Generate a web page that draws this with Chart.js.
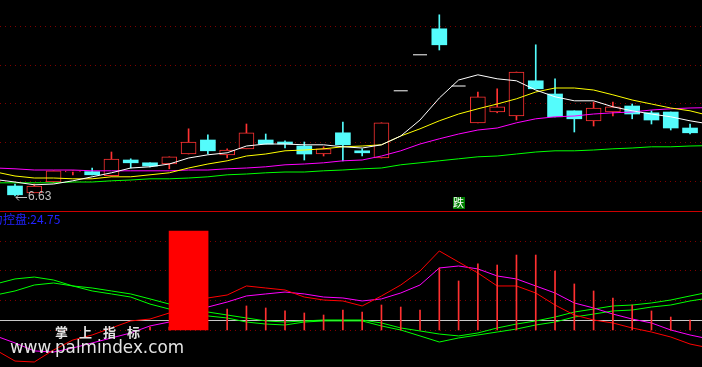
<!DOCTYPE html>
<html>
<head>
<meta charset="utf-8">
<title>K线 + 控盘</title>
<script src="https://cdn.jsdelivr.net/npm/chart.js@4.4.1/dist/chart.umd.min.js"></script>
<style>
  html, body { margin: 0; padding: 0; background: #000; overflow: hidden; }
  canvas { display: block; }
</style>
</head>
<body>
<canvas id="klineChart" width="702" height="211"></canvas>
<canvas id="ctrlChart" width="702" height="156"></canvas>
<script>
// ---- K线 (36 days) ----
const opens  = [6.88, 6.71, 6.98, 7.23, 7.24, 7.14, 7.53, 7.46, 7.43, 7.68, 8.03, 7.66, 7.81, 8.03, 7.98, 7.88, 7.68, 8.21,
                7.76, 7.58, 9.26, 10.16, 10.81, 9.38, 8.46, 8.73, 8.63, 9.51, 9.18, 8.76, 8.51, 8.73, 8.88, 8.71, 8.73, 8.33];
const highs  = [6.93, 6.93, 7.26, 7.26, 7.33, 7.73, 7.56, 7.46, 7.61, 8.31, 8.16, 7.81, 8.43, 8.18, 8.01, 7.98, 7.86, 8.48,
                7.81, 8.46, 9.26, 10.16, 11.16, 9.38, 9.23, 9.31, 9.73, 10.41, 9.56, 8.76, 8.98, 8.98, 8.93, 8.76, 8.73, 8.43];
const lows   = [6.63, 6.71, 6.96, 7.16, 7.16, 7.12, 7.33, 7.36, 7.31, 7.68, 7.68, 7.58, 7.81, 7.93, 7.83, 7.53, 7.63, 7.51,
                7.63, 7.58, 9.26, 10.16, 10.28, 9.38, 8.46, 8.71, 8.53, 9.31, 8.61, 8.23, 8.38, 8.63, 8.56, 8.43, 8.28, 8.18];
const closes = [6.66, 6.88, 7.26, 7.26, 7.16, 7.55, 7.46, 7.38, 7.61, 7.98, 7.76, 7.78, 8.21, 7.93, 7.93, 7.68, 7.81, 7.91,
                7.71, 8.46, 9.26, 10.16, 10.41, 9.38, 9.11, 8.86, 9.73, 9.31, 8.61, 8.56, 8.83, 8.86, 8.68, 8.53, 8.33, 8.21];

// moving averages, first and last value sit one day outside the window (day -1 and day 36)
const ma5  = [7.04, 6.98, 6.91, 6.93, 7.01, 7.11, 7.21, 7.33, 7.36, 7.43, 7.58, 7.66, 7.71, 7.88, 7.93, 7.93, 7.91, 7.91, 7.86,
              7.83, 7.91, 8.13, 8.53, 9.08, 9.53, 9.66, 9.56, 9.51, 9.28, 9.11, 9.01, 9.01, 8.86, 8.76, 8.68, 8.61, 8.51, 8.43];
const ma10 = [7.23, 7.13, 7.08, 7.08, 7.06, 7.06, 7.11, 7.11, 7.16, 7.21, 7.33, 7.43, 7.51, 7.63, 7.68, 7.76, 7.78, 7.81, 7.86,
              7.88, 7.91, 8.13, 8.31, 8.51, 8.68, 8.81, 8.93, 9.06, 9.23, 9.33, 9.33, 9.28, 9.16, 9.03, 8.93, 8.83, 8.76, 8.64];
const ma20 = [7.33, 7.31, 7.28, 7.28, 7.28, 7.26, 7.26, 7.26, 7.26, 7.26, 7.28, 7.28, 7.31, 7.33, 7.36, 7.41, 7.43, 7.46, 7.51,
              7.53, 7.63, 7.76, 7.93, 8.06, 8.18, 8.28, 8.33, 8.46, 8.56, 8.61, 8.63, 8.68, 8.71, 8.73, 8.78, 8.81, 8.83, 8.84];
const ma60 = [6.96, 6.96, 6.96, 6.96, 6.98, 6.98, 7.01, 7.03, 7.06, 7.06, 7.08, 7.11, 7.16, 7.18, 7.21, 7.23, 7.23, 7.26, 7.28,
              7.31, 7.33, 7.41, 7.46, 7.51, 7.56, 7.61, 7.63, 7.68, 7.73, 7.76, 7.76, 7.78, 7.81, 7.83, 7.86, 7.86, 7.88, 7.89];
const priceGrid = [7.0, 7.98, 8.95, 9.91, 10.88];
const signalDays = [23];
const signalText = ["跌"];

// ---- 控盘 indicator, same day layout (day -1 .. 36) ----
const ctrlRed   = [-16.8, -26.1, -26.9, -16.8, -8.4, -4.2, 1.7, 7.6, 9.2, 14.3, 21.0, 26.9, 29.4, 37.0, 35.3, 33.6, 27.7, 25.2, 24.4,
                   20.2, 28.6, 37.8, 49.6, 66.4, 57.1, 47.9, 37.0, 37.0, 31.1, 21.0, 12.6, 8.4, 5.9, 1.7, -1.7, -5.9, -11.8, -15.1];
const ctrlPink  = [-5.0, -10.9, -17.6, -18.5, -15.1, -10.9, -6.7, -2.5, 3.4, 6.7, 13.4, 19.3, 23.5, 28.6, 30.3, 31.9, 30.3, 27.7, 26.9,
                   24.4, 26.1, 31.1, 37.8, 52.1, 53.8, 51.3, 45.4, 42.9, 37.0, 31.1, 22.7, 18.5, 13.4, 9.2, 5.9, 0, -4.2, -7.6];
const ctrlGreenA = [38.7, 42.9, 44.5, 42.0, 37.0, 35.3, 32.8, 30.3, 26.1, 21.8, 18.5, 15.1, 12.6, 10.1, 7.6, 6.7, 7.6, 8.4, 8.4,
                    8.4, 5.9, 1.7, -0.8, -3.4, -5.0, -2.5, 1.7, 5.0, 7.6, 10.9, 15.1, 17.6, 20.2, 21.0, 22.7, 25.2, 28.6, 31.9];
const ctrlGreenB = [29.4, 32.8, 37.8, 39.5, 37.0, 32.8, 30.3, 27.7, 21.8, 17.6, 14.3, 11.8, 10.1, 6.7, 5.0, 4.2, 6.7, 7.6, 7.6,
                    7.6, 3.4, 0, -5.0, -10.1, -6.7, -4.2, -1.7, 0.8, 4.2, 6.7, 10.9, 13.4, 16.0, 16.8, 19.3, 21.0, 24.4, 26.9];
// red sticks per day (null = none)
const sticks = [null, null, null, null, null, null, null, 2.5, 2.5, null, null, 17.6, 20.2, 18.5, 16.0, 14.3, 12.6, 16.8,
                15.1, 21.0, 19.3, 16.8, 52.1, 41.2, 55.5, 54.6, 63.0, 63.0, 49.6, 38.7, 32.8, 26.9, 21.0, 16.0, 10.9, 8.4];
const bigBarDay = [9];
const bigBarTop = [83.2];
const ctrlGrid = [0, 25, 50, 75];
const ctrlRef = 8.4;
const ctrlTitle = "主力控盘:24.75";

const UP = "#FF3232", DOWN = "#54FCFC", FLAT = "#FFFFFF";
const GRID = "#800000";
const xMin = -0.778, xMax = 35.62;

// build candle datasets
const bodyData = [], bodyFill = [], bodyBorder = [], bodyBorderW = [];
const wickData = [], wickColor = [];
const flatData = [];
opens.forEach((o, i) => {
    const c = closes[i];
    if (o === c && highs[i] === lows[i]) {
        flatData.push({ x: i, y: c });
        return;
    }
    const up = c >= o;
    bodyData.push({ x: i, y: [Math.min(o, c), Math.max(o, c)] });
    bodyFill.push(up ? "#000000" : DOWN);
    bodyBorder.push(up ? UP : DOWN);
    bodyBorderW.push(up ? 1 : 0);
    wickData.push({ x: i, y: [lows[i], highs[i]] });
    wickColor.push(up ? UP : DOWN);
});
const toLine = (arr) => arr.map((v, k) => ({ x: k - 1, y: v }));
const lineSet = (arr, color, order) => ({
    type: "line", data: toLine(arr), borderColor: color, borderWidth: 1,
    pointRadius: 0, tension: 0, order: order,
});

function hLine(ctx, area, py, color, dash) {
    ctx.save();
    ctx.strokeStyle = color;
    ctx.lineWidth = 1;
    ctx.setLineDash(dash);
    ctx.beginPath();
    ctx.moveTo(area.left, Math.round(py) + 0.5);
    ctx.lineTo(area.right, Math.round(py) + 0.5);
    ctx.stroke();
    ctx.restore();
}

const klineDecor = {
    id: "klineDecor",
    beforeDatasetsDraw(chart) {
        const { ctx, chartArea, scales } = chart;
        priceGrid.forEach((v) => hLine(ctx, chartArea, scales.y.getPixelForValue(v), GRID, [1, 4]));
    },
    afterDatasetsDraw(chart) {
        const { ctx, chartArea, scales } = chart;
        // lowest low label
        const lowVal = Math.min(...lows);
        const lowIdx = lows.indexOf(lowVal);
        const px = scales.x.getPixelForValue(lowIdx);
        const py = scales.y.getPixelForValue(lowVal) + 1;
        ctx.save();
        ctx.strokeStyle = "#C0C0C0";
        ctx.lineWidth = 1;
        ctx.beginPath();
        ctx.moveTo(px + 1, py + 0.5); ctx.lineTo(px + 12, py + 0.5);
        ctx.moveTo(px + 1, py + 0.5); ctx.lineTo(px + 4, py - 2.5);
        ctx.moveTo(px + 1, py + 0.5); ctx.lineTo(px + 4, py + 3.5);
        ctx.stroke();
        ctx.fillStyle = "#C0C0C0";
        ctx.font = '12px "Liberation Sans", Arial, sans-serif';
        ctx.textBaseline = "middle";
        ctx.fillText(lowVal.toFixed(2), px + 13, py);
        // signal boxes
        signalDays.forEach((d, k) => {
            const sx = scales.x.getPixelForValue(d);
            ctx.fillStyle = "#008000";
            ctx.fillRect(Math.round(sx - 6), chartArea.bottom - 14, 12, 12);
            ctx.fillStyle = "#FFFFFF";
            ctx.font = '11px "Noto Sans CJK SC", sans-serif';
            ctx.textAlign = "center";
            ctx.fillText(signalText[k], sx, chartArea.bottom - 8);
        });
        ctx.restore();
    },
};

var klineChart = new Chart(document.getElementById("klineChart").getContext("2d"), {
    type: "bar",
    data: {
        datasets: [
            lineSet(ma5, "#FFFFFF", 0),
            lineSet(ma10, "#FFFF00", 0),
            lineSet(ma20, "#FF00FF", 0),
            lineSet(ma60, "#00FF00", 0),
            {
                type: "line", data: flatData, showLine: false, pointStyle: "line",
                pointRadius: 7, borderColor: FLAT, pointBorderWidth: 1, order: 0,
            },
            {
                data: bodyData, backgroundColor: bodyFill, borderColor: bodyBorder,
                borderWidth: bodyBorderW, borderSkipped: false, barThickness: 15, grouped: false, order: 1,
            },
            { data: wickData, backgroundColor: wickColor, barThickness: 1, grouped: false, order: 2 },
        ],
    },
    options: {
        responsive: false,
        animation: false,
        devicePixelRatio: 1,
        layout: { padding: 0, autoPadding: false },
        plugins: { legend: { display: false }, tooltip: { enabled: false } },
        scales: {
            x: { type: "linear", display: false, min: xMin, max: xMax, offset: false },
            y: { display: false, min: 6.255, max: 11.53 },
        },
    },
    plugins: [klineDecor],
});

const ctrlDecor = {
    id: "ctrlDecor",
    beforeDatasetsDraw(chart) {
        const { ctx, chartArea, scales } = chart;
        hLine(ctx, chartArea, chartArea.top, "#CC0000", []);
        ctrlGrid.forEach((v) => hLine(ctx, chartArea, scales.y.getPixelForValue(v), GRID, [1, 4]));
        hLine(ctx, chartArea, scales.y.getPixelForValue(ctrlRef), "#C8C8C8", []);
    },
    afterDraw(chart) {
        const { ctx } = chart;
        ctx.save();
        ctx.textBaseline = "middle";
        ctx.fillStyle = "#2222FF";
        ctx.font = '12px "Noto Sans CJK SC", sans-serif';
        ctx.fillText(ctrlTitle, -21, 8);
        // watermark
        ctx.fillStyle = "#E4E4E4";
        ctx.font = 'bold 13px "Noto Sans CJK SC", sans-serif';
        ["掌", "上", "指", "标"].forEach((ch, k) => ctx.fillText(ch, 55 + 24 * k, 121));
        ctx.textBaseline = "alphabetic";
        ctx.font = '17px "DejaVu Sans", sans-serif';
        ctx.fillText("www.palmindex.com", 10, 142, 174);
        ctx.restore();
    },
};

var ctrlChart = new Chart(document.getElementById("ctrlChart").getContext("2d"), {
    type: "bar",
    data: {
        datasets: [
            {
                data: bigBarDay.map((d, k) => ({ x: d, y: [0, bigBarTop[k]] })),
                backgroundColor: "#FF0000", barThickness: 39, grouped: false, order: 0,
            },
            {
                data: sticks.map((v, i) => (v === null ? null : { x: i, y: [0, v] })).filter((p) => p),
                backgroundColor: "#FF3030", barThickness: 1, grouped: false, order: 1,
            },
            lineSet(ctrlRed, "#FF0000", 2),
            lineSet(ctrlPink, "#FF00FF", 2),
            lineSet(ctrlGreenA, "#00FF00", 3),
            lineSet(ctrlGreenB, "#00FF00", 3),
        ],
    },
    options: {
        responsive: false,
        animation: false,
        devicePixelRatio: 1,
        layout: { padding: 0, autoPadding: false },
        plugins: { legend: { display: false }, tooltip: { enabled: false } },
        scales: {
            x: { type: "linear", display: false, min: xMin, max: xMax, offset: false },
            y: { display: false, min: -31.1, max: 100 },
        },
    },
    plugins: [ctrlDecor],
});
</script>
</body>
</html>
